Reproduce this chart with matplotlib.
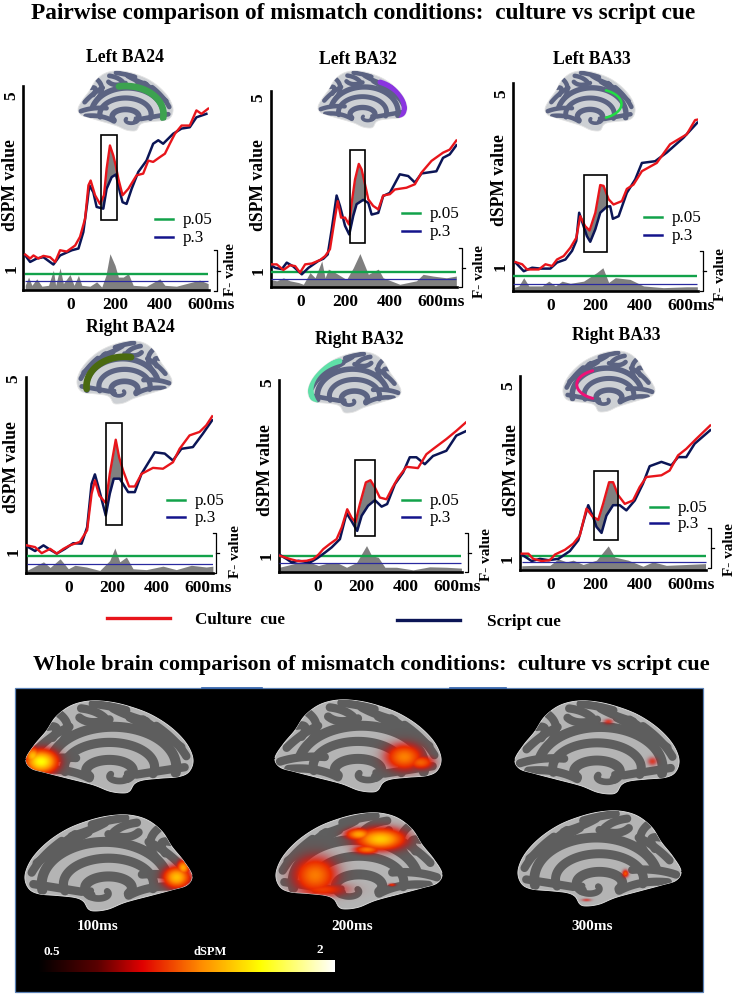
#!/usr/bin/env python3
import matplotlib
matplotlib.use("Agg")
import matplotlib.pyplot as plt
import numpy as np
from matplotlib.colors import LinearSegmentedColormap
from matplotlib.patches import PathPatch, Rectangle
from matplotlib.path import Path
from matplotlib.transforms import ScaledTranslation

plt.rcParams["font.family"] = ["Liberation Serif", "DejaVu Serif"]

W, H = 737, 995
PX_PER_MS = 0.2217
PX_PER_UNIT = 43.3

# ---- time courses (ms, dSPM) ----
t_l24_red = [-205, -183, -168, -146, -123, -93, -70, -48, -18, 20, 42, 65, 80, 90, 110, 132, 150, 162, 177, 192, 203, 215, 234, 260, 297, 327, 350, 372, 402, 425, 447, 470, 500, 537, 567, 590, 620]
v_l24_red = [1.31, 1.22, 1.29, 1.22, 1.28, 1.25, 1.14, 1.41, 1.38, 1.52, 1.72, 2.14, 2.91, 3.02, 2.68, 2.48, 2.68, 3.29, 3.83, 3.6, 3.37, 3.06, 2.68, 2.83, 3.14, 3.18, 3.48, 3.45, 3.56, 3.64, 3.87, 4.1, 4.29, 4.29, 4.64, 4.56, 4.68]
t_l24_blue = [-205, -183, -153, -123, -78, -48, 5, 35, 57, 75, 84, 102, 117, 147, 162, 185, 204, 222, 234, 252, 275, 305, 342, 372, 395, 417, 462, 500, 537, 567, 612]
v_l24_blue = [1.29, 1.14, 1.22, 1.25, 1.08, 1.29, 1.41, 1.45, 1.83, 2.52, 2.91, 2.75, 2.41, 2.37, 2.83, 3.1, 3.16, 2.75, 2.52, 2.48, 2.83, 3.22, 3.48, 3.87, 3.95, 3.87, 4.1, 4.22, 4.25, 4.48, 4.56]
t_l24_f = [-205, -190, -175, -153, -130, -100, -78, -68, -48, -33, -3, 15, 35, 50, 87, 117, 140, 159, 177, 200, 215, 237, 260, 282, 342, 402, 425, 477, 537, 582, 620]
v_l24_f = [0.6, 0.79, 0.6, 0.75, 0.58, 0.6, 0.95, 0.6, 1.0, 0.64, 0.85, 0.6, 0.83, 0.6, 0.58, 0.68, 0.56, 0.83, 1.33, 1.06, 0.79, 0.79, 0.87, 0.6, 0.58, 0.75, 0.6, 0.58, 0.66, 0.72, 0.64]

t_l32_red = [-135, -108, -78, -48, -25, -3, 20, 50, 87, 110, 132, 152, 167, 182, 200, 218, 230, 245, 262, 275, 290, 305, 327, 350, 372, 402, 425, 477, 515, 545, 590, 642, 672, 702]
v_l32_red = [1.13, 1.13, 1.0, 1.11, 1.09, 0.94, 1.13, 1.15, 1.23, 1.32, 1.48, 2.13, 2.59, 2.21, 2.21, 2.05, 2.55, 3.09, 3.45, 3.32, 2.98, 2.63, 2.48, 2.4, 2.72, 2.75, 2.86, 2.9, 2.98, 3.25, 3.52, 3.71, 3.78, 3.99]
t_l32_blue = [-135, -115, -85, -63, -33, 5, 35, 80, 102, 122, 140, 162, 177, 200, 219, 237, 252, 282, 305, 320, 350, 372, 402, 447, 485, 515, 545, 612, 642, 672, 702]
v_l32_blue = [1.11, 1.05, 1.02, 1.17, 1.08, 0.9, 1.05, 1.21, 1.26, 1.36, 1.94, 2.72, 2.48, 2.02, 1.82, 2.25, 2.52, 2.62, 2.55, 2.28, 2.32, 2.71, 2.78, 3.21, 3.17, 3.02, 3.23, 3.28, 3.59, 3.67, 3.88]
t_l32_f = [-135, -108, -78, -48, -10, 12, 42, 65, 95, 110, 125, 155, 207, 237, 267, 290, 305, 350, 372, 447, 522, 552, 597, 657, 702]
v_l32_f = [0.78, 0.75, 0.82, 0.75, 0.71, 0.67, 0.94, 0.82, 1.21, 0.82, 1.02, 0.94, 0.78, 1.05, 1.38, 1.09, 0.9, 1.02, 0.82, 0.67, 0.75, 0.9, 0.86, 0.82, 0.86]

t_l33_red = [-160, -130, -108, -55, -25, 5, 27, 57, 87, 114, 132, 154, 174, 200, 222, 237, 260, 282, 320, 342, 372, 410, 477, 537, 612, 650, 660]
v_l33_red = [1.09, 1.04, 0.92, 0.92, 1.04, 1.0, 1.15, 1.23, 1.42, 1.65, 2.15, 1.92, 1.82, 2.23, 2.87, 2.85, 2.54, 2.42, 2.5, 2.78, 2.88, 3.19, 3.38, 3.81, 4.04, 4.37, 4.38]
t_l33_blue = [-160, -123, -85, -48, -3, 27, 65, 95, 114, 127, 147, 162, 177, 200, 222, 252, 267, 279, 305, 342, 380, 410, 470, 522, 597, 660]
v_l33_blue = [1.08, 0.88, 0.96, 0.94, 0.94, 1.08, 1.15, 1.35, 1.58, 2.23, 1.92, 1.69, 1.56, 1.85, 2.23, 2.37, 2.38, 2.09, 2.15, 2.69, 3.0, 3.38, 3.42, 3.62, 3.96, 4.31]
t_l33_f = [-171, -145, -123, -100, -40, -10, 20, 50, 87, 147, 207, 234, 260, 290, 357, 417, 507, 612, 660]
v_l33_f = [0.5, 0.54, 0.73, 0.54, 0.54, 0.65, 0.54, 0.65, 0.6, 0.65, 0.85, 0.96, 0.62, 0.73, 0.69, 0.54, 0.5, 0.52, 0.52]

t_r24_red = [-187, -150, -120, -82, -52, -22, 7, 52, 85, 105, 120, 140, 169, 187, 214, 229, 247, 274, 300, 330, 382, 427, 472, 502, 547, 592, 622, 649]
v_r24_red = [1.13, 1.09, 0.95, 1.05, 0.94, 1.05, 1.13, 1.21, 1.48, 2.32, 2.63, 2.28, 2.11, 2.78, 3.57, 3.17, 2.86, 2.49, 2.49, 2.78, 2.92, 2.9, 3.05, 3.36, 3.67, 3.75, 3.9, 4.11]
t_r24_blue = [-187, -150, -112, -82, -52, -15, 22, 60, 85, 105, 120, 140, 169, 187, 205, 232, 270, 300, 330, 390, 435, 472, 510, 562, 607, 649]
v_r24_blue = [1.11, 1.0, 1.13, 1.03, 0.94, 1.05, 1.18, 1.17, 1.55, 2.55, 2.77, 2.4, 1.82, 2.32, 2.67, 2.67, 2.36, 2.36, 2.78, 3.28, 3.25, 3.09, 3.36, 3.4, 3.71, 4.02]
t_r24_f = [-187, -157, -112, -82, -37, 0, 30, 82, 142, 187, 210, 232, 262, 292, 352, 427, 487, 555, 622, 652]
v_r24_f = [0.55, 0.63, 0.75, 0.62, 0.82, 0.59, 0.67, 0.63, 0.55, 0.78, 1.07, 0.75, 0.86, 0.59, 0.57, 0.65, 0.57, 0.67, 0.63, 0.65]

t_r32_red = [-171, -123, -85, -48, -18, 5, 27, 57, 87, 110, 135, 154, 172, 192, 219, 240, 260, 282, 312, 339, 365, 402, 454, 492, 522, 582, 627, 669]
v_r32_red = [0.98, 0.9, 0.85, 0.86, 0.9, 1.0, 1.13, 1.25, 1.36, 1.63, 2.05, 1.86, 1.75, 2.17, 2.67, 2.72, 2.55, 2.32, 2.28, 2.55, 2.78, 3.03, 3.0, 3.32, 3.44, 3.67, 3.86, 4.05]
t_r32_blue = [-171, -138, -115, -85, -33, 0, 35, 65, 102, 132, 154, 180, 200, 229, 260, 290, 315, 350, 387, 417, 447, 485, 522, 582, 627, 669]
v_r32_blue = [1.0, 0.9, 0.82, 0.86, 0.82, 0.92, 1.05, 1.17, 1.36, 1.96, 1.78, 1.55, 1.9, 2.13, 2.26, 2.11, 2.17, 2.63, 2.9, 3.25, 3.25, 3.09, 3.28, 3.4, 3.75, 3.85]
t_r32_f = [-171, -138, -85, -30, 5, 57, 87, 132, 177, 200, 222, 245, 275, 305, 357, 432, 507, 582, 650]
v_r32_f = [0.71, 0.75, 0.82, 0.82, 0.75, 0.82, 0.82, 0.71, 0.82, 1.02, 1.21, 0.98, 0.94, 0.71, 0.71, 0.65, 0.72, 0.71, 0.69]

t_r33_red = [-132, -102, -80, -42, -5, 18, 63, 100, 130, 160, 187, 213, 235, 262, 280, 303, 333, 370, 400, 430, 498, 535, 573, 610, 655, 718]
v_r33_red = [1.1, 1.1, 0.98, 0.93, 0.95, 1.08, 1.19, 1.33, 1.52, 2.14, 1.96, 1.88, 2.25, 2.75, 2.75, 2.45, 2.25, 2.33, 2.64, 2.87, 2.91, 3.02, 3.37, 3.52, 3.75, 4.06]
t_r33_blue = [-132, -87, -50, -12, 33, 85, 123, 148, 168, 190, 205, 228, 250, 280, 310, 340, 378, 415, 445, 498, 543, 573, 610, 648, 718]
v_r33_blue = [1.08, 0.93, 0.98, 0.95, 0.98, 1.16, 1.41, 1.87, 2.22, 1.95, 1.72, 1.58, 1.98, 2.22, 2.22, 2.1, 2.33, 2.72, 3.12, 3.22, 3.14, 3.33, 3.33, 3.64, 3.95]
t_r33_f = [-132, -80, -5, 33, 70, 100, 145, 205, 258, 288, 348, 415, 460, 520, 610, 697]
v_r33_f = [0.82, 0.83, 0.83, 0.98, 0.91, 0.95, 0.85, 0.95, 1.28, 1.02, 0.95, 0.81, 0.91, 0.83, 0.85, 0.87]

# thresholds (F-value lines) and the boxed window of each panel
p05_levels = [0.87, 0.95, 0.78, 0.88, 0.96, 1.05]
p3_levels = [0.70, 0.79, 0.58, 0.71, 0.81, 0.91]
box_t = [(135, 207), (222, 291), (151, 253), (172, 244), (168, 261), (196, 301)]
box_v = [(2.1, 4.08), (1.62, 3.77), (1.33, 3.11), (1.59, 3.96), (1.44, 3.18), (1.42, 3.0)]
titles = ["Left BA24", "Left BA32", "Left BA33", "Right BA24", "Right BA32", "Right BA33"]
x_ticks = [0, 200, 400, 600]
x_tick_labels = ["0", "200", "400", "600ms"]
colorbar_labels = ["0.5", "dSPM", "2"]
time_labels = ["100ms", "200ms", "300ms"]

# ---- layout in image pixels ----
ax_left = [23.3, 270.7, 513, 25.7, 279, 520]
ax_right = [209, 457, 697.7, 213, 466, 711]
spine_right = [209, 457, 697.7, 213, 461.7, 706]
ax_top = [87, 92, 84, 378, 380.7, 377]
ax_bottom = [291, 288, 292, 574, 572.7, 571]
zero_x = [70.7, 300.7, 551, 68.3, 317.3, 551]
one_y = [269, 271, 267, 552, 555.7, 559]
title_xy = [(125, 57), (358, 59), (592, 59), (130, 328), (359, 339), (616, 335)]
ylabel_xy = [(11, 185), (259, 185), (500, 180), (11.7, 467), (266, 470), (512, 470)]
legend_xy = [(155, 220, 238), (401.7, 214, 231.7), (644, 218, 236), (166.7, 501, 518), (402, 501, 518), (650, 507.7, 524)]
bracket = [(217, 251, 292), (462, 249, 288), (703, 252, 292), (216, 534, 574), (468, 534, 573), (711, 529, 569)]
fval_xy = [(231, 270), (480, 272), (721, 275), (236, 552), (487, 555), (730, 550)]
brain_box = [(78, 72, 173, 132), (318, 72, 407, 129), (545, 72, 635, 132),
             (77, 342, 172, 405), (308, 353, 401, 414), (563, 352, 655, 413)]
# colour, arc centre x/y, radii x/y, start and end angle, width (brain fraction)
highlights = [
    ("#3ca24f", 0.50, 0.72, 0.40, 0.47, 100, -8, 0.07),
    ("#8a35e0", 0.50, 0.65, 0.47, 0.50, 65, -30, 0.06),
    ("#22dd44", 0.55, 0.55, 0.30, 0.25, 65, -65, 0.028),
    ("#4a6a10", 0.50, 0.72, 0.40, 0.47, 100, -5, 0.07),
    ("#5fe0a8", 0.50, 0.62, 0.47, 0.50, 70, -30, 0.06),
    ("#ee1177", 0.55, 0.55, 0.30, 0.25, 65, -65, 0.032),
]

OUTLINE = [(0.0, 0.63), (0.05, 0.48), (0.12, 0.33), (0.18, 0.17), (0.27, 0.05), (0.38, 0.0), (0.5, 0.01),
           (0.62, 0.06), (0.75, 0.15), (0.87, 0.29), (0.96, 0.46), (1.0, 0.63), (0.98, 0.76), (0.92, 0.82),
           (0.8, 0.84), (0.7, 0.86), (0.65, 0.9), (0.62, 0.98), (0.58, 1.0), (0.5, 0.98), (0.4, 0.91),
           (0.25, 0.84), (0.12, 0.78), (0.03, 0.73)]
SULCI_ARCS = [(0.52, 0.72, 0.38, 0.44, -8, 165, 0.06), (0.50, 0.72, 0.27, 0.27, -15, 190, 0.055),
              (0.50, 0.76, 0.14, 0.12, -40, 210, 0.06), (0.56, 0.82, 0.06, 0.05, 150, 400, 0.04)]
SULCI_LINES = [
    [(0.2, 0.14), (0.3, 0.28), (0.2, 0.48)], [(0.33, 0.08), (0.42, 0.1), (0.47, 0.18)],
    [(0.52, 0.08), (0.6, 0.16), (0.72, 0.22)], [(0.62, 0.18), (0.75, 0.3), (0.84, 0.4)],
    [(0.78, 0.27), (0.9, 0.42), (0.96, 0.6)], [(0.07, 0.52), (0.16, 0.36), (0.26, 0.28)],
    [(0.03, 0.67), (0.15, 0.6), (0.3, 0.62)], [(0.08, 0.75), (0.25, 0.72), (0.38, 0.84)],
    [(0.32, 0.18), (0.38, 0.27), (0.5, 0.2)], [(0.66, 0.8), (0.8, 0.76), (0.95, 0.72)],
    [(0.13, 0.28), (0.22, 0.25), (0.16, 0.4)], [(0.4, 0.03), (0.5, 0.05), (0.6, 0.1)],
    [(0.7, 0.2), (0.8, 0.33), (0.93, 0.5)],
]

hot = LinearSegmentedColormap.from_list(
    "dspm", [(0, "#000000"), (0.2, "#5a0000"), (0.35, "#e00000"), (0.55, "#ff8c00"), (0.75, "#ffff00"), (1, "#ffffff")])

# whole-brain rows: bounding box, mirrored, activation blobs (x, y, sx, sy, amp)
whole_brains = [
    ((26, 702, 193, 794), False, [(0.09, 0.66, 0.06, 0.08, 1.0), (0.04, 0.6, 0.03, 0.06, 0.75)]),
    ((275, 701, 441, 793), False, [(0.78, 0.62, 0.07, 0.09, 0.52), (0.88, 0.68, 0.05, 0.05, 0.42)]),
    ((515, 702, 679, 795), False, [(0.57, 0.22, 0.02, 0.02, 0.2), (0.84, 0.65, 0.02, 0.03, 0.2)]),
    ((25, 816, 192, 912), True, [(0.91, 0.65, 0.05, 0.07, 0.75), (0.95, 0.55, 0.025, 0.05, 0.65)]),
    ((276, 814, 442, 910), True, [(0.235, 0.65, 0.08, 0.12, 0.5), (0.63, 0.27, 0.09, 0.07, 0.8),
                                  (0.5, 0.22, 0.05, 0.04, 0.65), (0.55, 0.38, 0.05, 0.03, 0.5),
                                  (0.7, 0.75, 0.015, 0.01, 0.3), (0.28, 0.8, 0.1, 0.05, 0.3)]),
    ((518, 812, 681, 907), True, [(0.66, 0.66, 0.012, 0.025, 0.4), (0.42, 0.94, 0.02, 0.01, 0.18)]),
]


def smooth_closed(pts, n=12):
    p = np.array(pts, float)
    out = []
    for i in range(len(p)):
        a, b, c, d = p[i - 1], p[i], p[(i + 1) % len(p)], p[(i + 2) % len(p)]
        for s in np.linspace(0, 1, n, endpoint=False):
            out.append(0.5 * (2 * b + (c - a) * s + (2 * a - 5 * b + 4 * c - d) * s**2 + (3 * b - a - 3 * c + d) * s**3))
    return np.array(out)


def draw_brain(ax, bbox, mirror, light, dark, highlight=None, blobs=None, z=2):
    x0, y0, x1, y1 = bbox
    w, h = x1 - x0, y1 - y0

    def to_px(nx, ny, flip=mirror):
        nx = np.asarray(nx, float)
        return x0 + (1 - nx if flip else nx) * w, y0 + np.asarray(ny, float) * h

    ol = smooth_closed(OUTLINE)
    ox, oy = to_px(ol[:, 0], ol[:, 1])
    patch = PathPatch(Path(np.column_stack([ox, oy]), closed=False), fc=light, ec="#e4e4e4", lw=0.6, zorder=z)
    ax.add_patch(patch)

    def stroke(nx, ny, width, color, zz):
        px, py = to_px(nx, ny)
        line, = ax.plot(px, py, color=color, lw=width * w * 0.72, solid_capstyle="round", zorder=zz)
        line.set_clip_path(patch)

    for cx, cy, rx, ry, a0, a1, wd in SULCI_ARCS:
        a = np.radians(np.linspace(a0, a1, 60))
        stroke(cx + rx * np.cos(a), cy - ry * np.sin(a), wd, dark, z + 0.1)
    for pts in SULCI_LINES:
        p = np.array(pts)
        s = np.linspace(0, 1, 20)
        bx = (1 - s)**2 * p[0, 0] + 2 * s * (1 - s) * p[1, 0] + s**2 * p[2, 0]
        by = (1 - s)**2 * p[0, 1] + 2 * s * (1 - s) * p[1, 1] + s**2 * p[2, 1]
        stroke(bx, by, 0.05, dark, z + 0.1)
    if highlight:
        color, cx, cy, rx, ry, a0, a1, wd = highlight
        a = np.radians(np.linspace(a0, a1, 60))
        stroke(cx + rx * np.cos(a), cy - ry * np.sin(a), wd, color, z + 0.2)
    if blobs:
        # blob positions are already given in the drawn orientation
        gx, gy = np.meshgrid(np.linspace(0, 1, 240), np.linspace(0, 1, 140))
        field = np.zeros_like(gx)
        for bx, by, sx, sy, amp in blobs:
            field = np.maximum(field, amp * np.exp(-((gx - bx) / sx)**2 / 2 - ((gy - by) / sy)**2 / 2))
        rgba = hot(0.3 + 0.45 * field)
        rgba[..., 3] = np.clip(field / 0.25, 0, 1)
        im = ax.imshow(rgba, extent=(x0, x1, y1, y0), aspect="auto", zorder=z + 0.3, interpolation="bilinear")
        im.set_clip_path(patch)


fig = plt.figure(figsize=(W / 100, H / 100), dpi=100, facecolor="white")
page = fig.add_axes([0, 0, 1, 1], zorder=0)
page.axis("off")

page.text(363, 13, "Pairwise comparison of mismatch conditions:  culture vs script cue",
          fontsize=16.85, fontweight="bold", ha="center", va="center")
page.text(371, 665, "Whole brain comparison of mismatch conditions:  culture vs script cue",
          fontsize=16.1, fontweight="bold", ha="center", va="center")

series = [
    (t_l24_red, v_l24_red, t_l24_blue, v_l24_blue, t_l24_f, v_l24_f),
    (t_l32_red, v_l32_red, t_l32_blue, v_l32_blue, t_l32_f, v_l32_f),
    (t_l33_red, v_l33_red, t_l33_blue, v_l33_blue, t_l33_f, v_l33_f),
    (t_r24_red, v_r24_red, t_r24_blue, v_r24_blue, t_r24_f, v_r24_f),
    (t_r32_red, v_r32_red, t_r32_blue, v_r32_blue, t_r32_f, v_r32_f),
    (t_r33_red, v_r33_red, t_r33_blue, v_r33_blue, t_r33_f, v_r33_f),
]

for i, (tr, vr, tb, vb, tf, vf) in enumerate(series):
    left, right, top, bottom = ax_left[i], ax_right[i], ax_top[i], ax_bottom[i]
    ax = fig.add_axes([left / W, 1 - bottom / H, (right - left) / W, (bottom - top) / H], zorder=2)
    ax.patch.set_alpha(0)
    ax.set_xlim((left - zero_x[i]) / PX_PER_MS, (right - zero_x[i]) / PX_PER_MS)
    ax.set_ylim(1 + (one_y[i] - bottom) / PX_PER_UNIT, 1 + (one_y[i] - top) / PX_PER_UNIT)
    ymin = ax.get_ylim()[0]

    ax.fill_between(tf, ymin, vf, color="#7f7f7f", lw=0, zorder=1)
    grid = np.arange(box_t[i][0], box_t[i][1] + 1)
    ax.fill_between(grid, np.interp(grid, tr, vr), np.interp(grid, tb, vb), color="#808080", lw=0, zorder=2)
    ax.hlines(p05_levels[i], tf[0], tf[-1], color="#12a24a", lw=1.7, zorder=3)
    ax.hlines(p3_levels[i], tf[0], tf[-1], color="#2a2aa0", lw=0.9, zorder=3)
    ax.plot(tb, vb, color="#0b1556", lw=1.8, zorder=4)
    ax.plot(tr, vr, color="#e8151b", lw=1.7, zorder=5)
    ax.add_patch(Rectangle((box_t[i][0], box_v[i][0]), box_t[i][1] - box_t[i][0], box_v[i][1] - box_v[i][0],
                           fill=False, ec="black", lw=1.2, zorder=6))

    for s in ("top", "right"):
        ax.spines[s].set_visible(False)
    ax.spines["left"].set_linewidth(1.9)
    ax.spines["bottom"].set_linewidth(1.9)
    ax.spines["bottom"].set_bounds(ax.get_xlim()[0], (spine_right[i] - zero_x[i]) / PX_PER_MS)

    ax.set_xticks(x_ticks, x_tick_labels, fontsize=12.5, fontweight="bold")
    ax.set_yticks([1, 5], ["1", "5"], fontsize=12.5, fontweight="bold", rotation=90, va="center")
    ax.tick_params(axis="x", length=0, pad=4.5)
    ax.tick_params(axis="y", length=0, pad=3)
    lab = ax.get_xticklabels()[-1]
    lab.set_transform(lab.get_transform() + ScaledTranslation(7 / 100, 0, fig.dpi_scale_trans))

    page.text(*title_xy[i], titles[i], fontsize=12.7, fontweight="bold", ha="center", va="center")
    page.text(*ylabel_xy[i], "dSPM value", fontsize=12.7, fontweight="bold", rotation=90, ha="center", va="center")
    page.text(*fval_xy[i], "F- value", fontsize=11, fontweight="bold", rotation=90, ha="center", va="center")

    lx, ly1, ly2 = legend_xy[i]
    page.plot([lx, lx + 18], [ly1, ly1], color="#12a24a", lw=1.8)
    page.plot([lx, lx + 18], [ly2, ly2], color="#14148c", lw=1.8)
    page.text(lx + 28, ly1, "p.05", fontsize=12.3, va="center")
    page.text(lx + 28, ly2, "p.3", fontsize=12.3, va="center")

    bx, by0, by1 = bracket[i]
    page.plot([bx - 3, bx, bx, bx - 3], [by0, by0, by1, by1], color="black", lw=0.9)
    page.plot([bx, bx + 3], [(by0 + by1) / 2] * 2, color="black", lw=0.9)

    draw_brain(page, brain_box[i], i >= 3, "#cdd0d4", "#5b6382", highlights[i])

# cue legend
page.plot([107, 170], [619, 619], color="#e8151b", lw=2.4)
page.text(195, 620, "Culture  cue", fontsize=12.3, fontweight="bold", va="center")
page.plot([397, 460], [621, 621], color="#0b1556", lw=2.4)
page.text(487, 622, "Script cue", fontsize=12.3, fontweight="bold", va="center")

# whole brain panel
page.add_patch(Rectangle((15, 689), 688, 304, fc="black", ec="#5a80b5", lw=0.9, zorder=1))
page.plot([202, 262], [689, 689], color="#2f5fa8", lw=1.2, zorder=1.5)
page.plot([450, 506], [689, 689], color="#2f5fa8", lw=1.2, zorder=1.5)
for bbox, mirror, blobs in whole_brains:
    draw_brain(page, bbox, mirror, "#b4b4b4", "#5e5e5e", None, blobs)
for x, y, label in zip((98, 352, 592), (926, 926, 927), time_labels):
    page.text(x, y, label, color="white", fontsize=11, fontweight="bold", ha="center", va="center", zorder=5)

page.imshow(np.linspace(0, 1, 256)[None, :], cmap=hot, extent=(38, 335, 973, 961), aspect="auto", zorder=3)
for x, y, label, fs in zip((52, 210, 320), (952, 952, 950), colorbar_labels, (9.5, 9, 9.5)):
    page.text(x, y, label, color="white", fontsize=fs, fontweight="bold", ha="center", va="center", zorder=5)

page.set_xlim(0, W)
page.set_ylim(H, 0)

fig.savefig("out.png", dpi=100)
